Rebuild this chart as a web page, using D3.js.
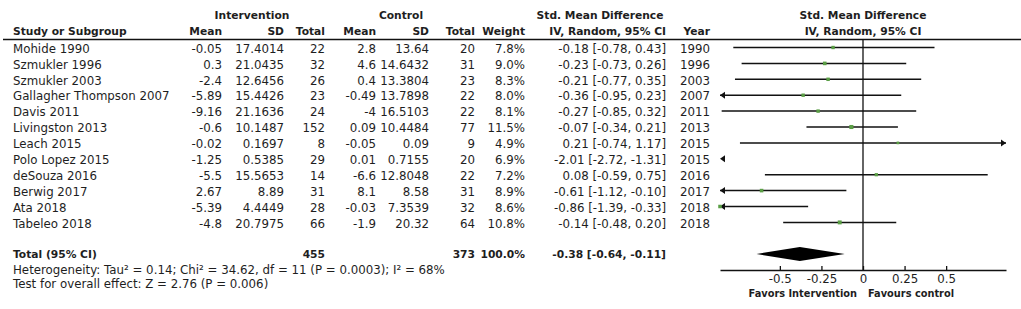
<!DOCTYPE html>
<html><head><meta charset="utf-8">
<script src="https://cdn.jsdelivr.net/npm/d3@7"></script>
<style>
body{margin:0;background:#fff}
svg{display:block}
text{font-family:"DejaVu Sans",Verdana,sans-serif;fill:#1e1e1e}
</style>
</head><body>
<svg id="c" width="1021" height="309"></svg>
<script>
const studies = ["Mohide 1990","Szmukler 1996","Szmukler 2003","Gallagher Thompson 2007","Davis 2011","Livingston 2013","Leach 2015","Polo Lopez 2015","deSouza 2016","Berwig 2017","Ata 2018","Tabeleo 2018"];
const years = [1990,1996,2003,2007,2011,2013,2015,2015,2016,2017,2018,2018];
const intMean = [-0.05,0.3,-2.4,-5.89,-9.16,-0.6,-0.02,-1.25,-5.5,2.67,-5.39,-4.8];
const intSD = [17.4014,21.0435,12.6456,15.4426,21.1636,10.1487,0.1697,0.5385,15.5653,8.89,4.4449,20.7975];
const intTotal = [22,32,26,23,24,152,8,29,14,31,28,66];
const ctlMean = [2.8,4.6,0.4,-0.49,-4,0.09,-0.05,0.01,-6.6,8.1,-0.03,-1.9];
const ctlSD = [13.64,14.6432,13.3804,13.7898,16.5103,10.4484,0.09,0.7155,12.8048,8.58,7.3539,20.32];
const ctlTotal = [20,31,23,22,22,77,9,20,22,31,32,64];
const weights = [7.8,9.0,8.3,8.0,8.1,11.5,4.9,6.9,7.2,8.9,8.6,10.8];
const smd = [-0.18,-0.23,-0.21,-0.36,-0.27,-0.07,0.21,-2.01,0.08,-0.61,-0.86,-0.14];
const ciLow = [-0.78,-0.73,-0.77,-0.95,-0.85,-0.34,-0.74,-2.72,-0.59,-1.12,-1.39,-0.48];
const ciHigh = [0.43,0.26,0.35,0.23,0.32,0.21,1.17,-1.31,0.75,-0.10,-0.33,0.20];
const totalInt = 455, totalCtl = 373, totalWeight = 100.0;
const totalSmd = -0.38, totalLow = -0.64, totalHigh = -0.11;
const heterogeneityText = "Heterogeneity: Tau² = 0.14; Chi² = 34.62, df = 11 (P = 0.0003); I² = 68%";
const overallText = "Test for overall effect: Z = 2.76 (P = 0.006)";
const axisTicks = [-0.5,-0.25,0,0.25,0.5];
const tickLabels = ["-0.5","-0.25","0","0.25","0.5"];
const xDomain = [-0.86,0.86];
const favorLeft = "Favors Intervention", favorRight = "Favours control";

const svg = d3.select("#c");
const FS = 11.8, BFS = 10.7;
const f2 = v => v.toFixed(2);
const ciStr = (m,l,h) => `${f2(m)} [${f2(l)}, ${f2(h)}]`;

const y = d3.scalePoint().domain(d3.range(studies.length)).range([48.5,223.4]);
const x = d3.scaleLinear().domain(xDomain).range([720,1006]);

function txt(xp, yp, s, anchor, bold, size){
  return svg.append("text").attr("x",xp).attr("y",yp).attr("dy","0.36em")
    .attr("text-anchor",anchor||"start")
    .attr("font-weight",bold?"bold":"normal")
    .attr("font-size",size||(bold?BFS:FS)).text(s);
}

// headers
txt(252,15,"Intervention","middle",true);
txt(401,15,"Control","middle",true);
txt(600,15,"Std. Mean Difference","middle",true);
txt(x(0),15,"Std. Mean Difference","middle",true);
txt(13,31,"Study or Subgroup","start",true);
txt(222,31,"Mean","end",true);
txt(284,31,"SD","end",true);
txt(325,31,"Total","end",true);
txt(376,31,"Mean","end",true);
txt(429,31,"SD","end",true);
txt(475,31,"Total","end",true);
txt(525,31,"Weight","end",true);
txt(666,31,"IV, Random, 95% CI","end",true);
txt(710,31,"Year","end",true);
txt(x(0),31,"IV, Random, 95% CI","middle",true);
svg.append("line").attr("x1",3).attr("x2",1021).attr("y1",39.5).attr("y2",39.5)
  .attr("stroke","#111").attr("stroke-width",1.5);

// rows
const cols = [
  {x:13, a:"start", v:i=>studies[i]},
  {x:222, a:"end", v:i=>String(intMean[i])},
  {x:284, a:"end", v:i=>String(intSD[i])},
  {x:325, a:"end", v:i=>String(intTotal[i])},
  {x:376, a:"end", v:i=>String(ctlMean[i])},
  {x:429, a:"end", v:i=>String(ctlSD[i])},
  {x:475, a:"end", v:i=>String(ctlTotal[i])},
  {x:525, a:"end", v:i=>weights[i].toFixed(1)+"%"},
  {x:666, a:"end", v:i=>ciStr(smd[i],ciLow[i],ciHigh[i])},
  {x:710, a:"end", v:i=>String(years[i])}
];
studies.forEach((s,i)=>{
  cols.forEach(c=>txt(c.x,y(i),c.v(i),c.a,false));
});

// totals
const ty = 254;
txt(13,ty,"Total (95% CI)","start",true);
txt(325,ty,String(totalInt),"end",true);
txt(475,ty,String(totalCtl),"end",true);
txt(525,ty,totalWeight.toFixed(1)+"%","end",true);
txt(666,ty,ciStr(totalSmd,totalLow,totalHigh),"end",true);
txt(13,269.5,heterogeneityText,"start",false);
txt(13,284,overallText,"start",false);

// forest plot
const axisY = 270;
svg.append("line").attr("x1",x(0)).attr("x2",x(0)).attr("y1",39.5).attr("y2",axisY)
  .attr("stroke","#111").attr("stroke-width",1.3);

const [dmin,dmax] = xDomain;
studies.forEach((s,i)=>{
  const yy = y(i)-1;
  const lo = Math.max(ciLow[i],dmin), hi = Math.min(ciHigh[i],dmax);
  if (hi > lo) {
    svg.append("line").attr("x1",x(lo)).attr("x2",x(hi)).attr("y1",yy).attr("y2",yy)
      .attr("stroke","#111").attr("stroke-width",1.5);
  }
  if (ciLow[i] < dmin) {
    const ax = x(dmin);
    svg.append("path").attr("d",`M${ax},${yy}L${ax+5},${yy-3.5}L${ax+5},${yy+3.5}Z`).attr("fill","#111");
  }
  if (ciHigh[i] > dmax) {
    const ax = x(dmax);
    svg.append("path").attr("d",`M${ax},${yy}L${ax-5},${yy-3.5}L${ax-5},${yy+3.5}Z`).attr("fill","#111");
  }
  if (smd[i] >= dmin && smd[i] <= dmax) {
    const sz = 1.2*Math.sqrt(weights[i]);
    svg.append("rect").attr("x",x(smd[i])-sz/2).attr("y",yy-sz/2).attr("width",sz).attr("height",sz)
      .attr("fill","#5a9e45");
  }
});

// diamond
svg.append("path")
  .attr("d",`M${x(totalLow)},${ty}L${x(totalSmd)},${ty-7}L${x(totalHigh)},${ty}L${x(totalSmd)},${ty+7}Z`)
  .attr("fill","#000");

// axis
const axis = d3.axisBottom(x).tickValues(axisTicks)
  .tickFormat((d,i)=>tickLabels[i]).tickSizeInner(-4).tickSizeOuter(0).tickPadding(5);
const g = svg.append("g").attr("transform",`translate(0,${axisY})`).call(axis);
g.select(".domain").attr("stroke","#111").attr("stroke-width",1.3);
g.selectAll(".tick line").attr("stroke","#111").attr("stroke-width",1.3);
g.selectAll(".tick text").attr("font-size",FS).attr("font-family",'"DejaVu Sans",Verdana,sans-serif').attr("fill","#1e1e1e");

txt(857,293,favorLeft,"end",true,9.8);
txt(868,293,favorRight,"start",true,9.8);
</script>
</body></html>
